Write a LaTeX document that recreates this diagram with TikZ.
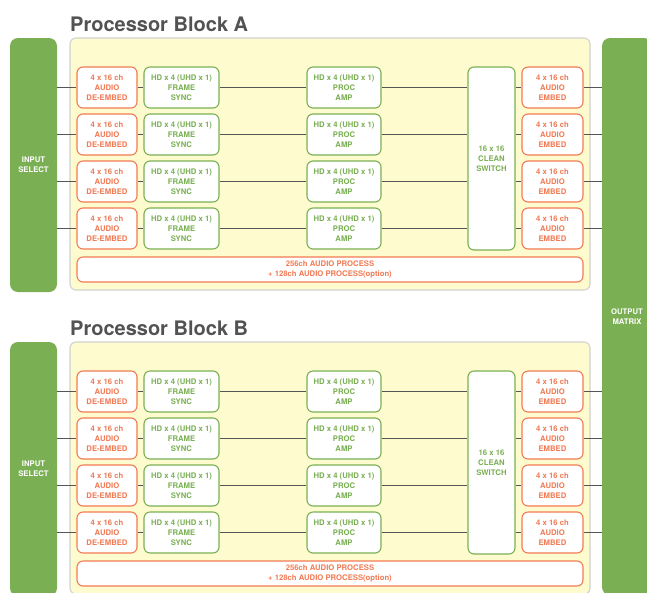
\documentclass[tikz,border=0pt]{standalone}
\usepackage{fontspec}
\setmainfont{TeX Gyre Heros}
\usetikzlibrary{positioning}
\definecolor{grncol} {RGB}{122,176,83}
\definecolor{orgcol} {RGB}{242,122,84}
\definecolor{pancol} {RGB}{254,252,206}
\definecolor{wirecol}{RGB}{85,85,85}
\definecolor{ttlcol} {RGB}{82,82,82}
\begin{document}
\begin{tikzpicture}[x=1pt,y=-1pt,
  blk/.style  ={rectangle,rounded corners=6pt,inner sep=0pt,align=center,
                font=\fontsize{7.7}{10}\selectfont\bfseries},
  obox/.style ={blk,draw=orgcol,fill=white,text=orgcol,line width=1.1pt,
                minimum height=41},
  gbox/.style ={blk,draw=grncol,fill=white,text=grncol,line width=1.1pt,
                minimum height=41},
  sel/.style  ={blk,fill=grncol,text=white,rounded corners=8pt},
  panel/.style={rectangle,rounded corners=6pt,draw=black!18,fill=pancol,
                line width=1.1pt,minimum width=520,minimum height=252},
  ttl/.style  ={anchor=base west,inner sep=0pt,text=ttlcol,
                font=\fontsize{20}{24}\selectfont\bfseries},
  wire/.style ={wirecol,line width=1pt}
]
\clip (0,0) rectangle (647,592);
\node[sel,minimum width=50,minimum height=557] (out) at (627,316.5) {OUTPUT\\MATRIX};
\foreach \b/\dy in {A/0,B/304} {
  \node[panel] (pan\b) at (330,164+\dy) {};
  \node[ttl] (ttl\b) at (70,31+\dy) {Processor Block \b};
  \node[sel,minimum width=47,minimum height=254] (in\b) at (33.5,165+\dy) {INPUT\\SELECT};
  \node[gbox,minimum width=47,minimum height=183] (sw\b) at (491.5,158.5+\dy)
    {16 x 16\\CLEAN\\SWITCH};
  \foreach \r in {1,...,4} {
    \pgfmathsetmacro\yy{87.5+47*(\r-1)+\dy}
    \node[obox,minimum width=60] (de\b\r) at (107,\yy) {4 x 16 ch\\AUDIO\\DE-EMBED};
    \node[gbox,minimum width=75] (fs\b\r) at (181.5,\yy) {HD x 4 (UHD x 1)\\FRAME\\SYNC};
    \node[gbox,minimum width=74] (pa\b\r) at (344,\yy) {HD x 4 (UHD x 1)\\PROC\\AMP};
    \node[obox,minimum width=61] (em\b\r) at (552.5,\yy) {4 x 16 ch\\AUDIO\\EMBED};
    \draw[wire] (in\b.east |- de\b\r.west) -- (de\b\r.west);
    \draw[wire] (de\b\r) -- (fs\b\r);
    \draw[wire] (fs\b\r) -- (pa\b\r);
    \draw[wire] (pa\b\r.east) -- (sw\b.west |- pa\b\r.east);
    \draw[wire] (sw\b.east |- em\b\r.west) -- (em\b\r.west);
    \draw[wire] (em\b\r.east) -- (out.west |- em\b\r.east);
  }
  \node[obox,minimum width=506,minimum height=25] (ap\b) at (330,269.5+\dy)
    {256ch AUDIO PROCESS\\+ 128ch AUDIO PROCESS(option)};
}
\end{tikzpicture}
\end{document}
